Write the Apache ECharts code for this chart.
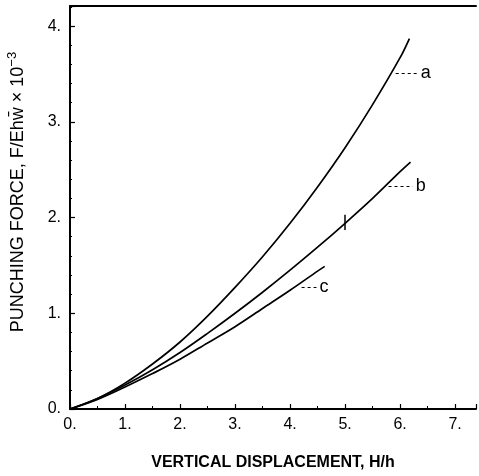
<!DOCTYPE html>
<html><head><meta charset="utf-8">
<script src="https://cdn.jsdelivr.net/npm/echarts@6/dist/echarts.min.js"></script>
<style>html,body{margin:0;padding:0;background:#fff}#c{width:479px;height:476px}</style>
</head><body><div id="c"></div>
<script>
// Curve a
const aX = [0, 0.5, 1, 1.5, 2, 2.5, 3, 3.5, 4, 4.5, 5, 5.5, 6, 6.17];
const aY = [0, 0.11, 0.27, 0.47, 0.70, 0.97, 1.27, 1.59, 1.94, 2.32, 2.73, 3.18, 3.67, 3.87];
// Curve b
const bX = [0, 0.5, 1, 1.5, 2, 2.5, 3, 3.5, 4, 4.5, 5, 5.5, 6, 6.19];
const bY = [0, 0.11, 0.25, 0.41, 0.59, 0.79, 1.00, 1.22, 1.45, 1.69, 1.94, 2.20, 2.48, 2.58];
// Curve c
const cX = [0, 0.5, 1, 1.5, 2, 2.5, 3, 3.5, 4, 4.5, 4.63];
const cY = [0, 0.10, 0.23, 0.37, 0.52, 0.69, 0.86, 1.05, 1.24, 1.44, 1.49];
// Curve labels: [name, leader start x, leader end x, y]
const labels = [["a", 5.92, 6.32, 3.51], ["b", 5.79, 6.23, 2.33], ["c", 4.21, 4.48, 1.27]];
// Tick mark on curve b
const bMark = [5.0, 1.87, 2.03];
const xTicks = ["0.", "1.", "2.", "3.", "4.", "5.", "6.", "7."];
const yTicks = ["0.", "1.", "2.", "3.", "4."];

const zip = (xs, ys) => xs.map((x, i) => [x, ys[i]]);
const font = "Liberation Sans, Arial, sans-serif";
const isInt = v => Math.abs(v - Math.round(v)) < 1e-6;
const lineSeries = (name, xs, ys, extra) => Object.assign({
  type: 'line', name, data: zip(xs, ys), smooth: 0.35, showSymbol: false,
  lineStyle: { color: '#000', width: 1.7 }, z: 3
}, extra || {});
const lblStyle = f => ({ show: true, position: 'end', formatter: f, color: '#000', fontSize: 18, fontFamily: font, distance: 3 });

const chart = echarts.init(document.getElementById('c'), null, { renderer: 'canvas' });
chart.setOption({
  animation: false,
  grid: { left: 70, top: 6, right: 0, bottom: 63 },
  xAxis: [{
    type: 'value', min: 0, max: 7.38, interval: 1,
    axisLine: { lineStyle: { color: '#000', width: 2 } },
    axisTick: { inside: true, length: 5, lineStyle: { color: '#000', width: 1.2 } },
    minorTick: { show: true, splitNumber: 2, length: 3, lineStyle: { color: '#000' } },
    splitLine: { show: false },
    axisLabel: { color: '#000', fontSize: 16, fontFamily: font, margin: 8,
      formatter: v => isInt(v) ? (xTicks[Math.round(v)] || '') : '' },
    name: 'VERTICAL DISPLACEMENT, H/h', nameLocation: 'middle', nameGap: 46,
    nameTextStyle: { color: '#000', fontSize: 16, fontWeight: 'bold', fontFamily: font }
  }, {
    type: 'value', position: 'top', min: 0, max: 7.38,
    axisLine: { show: true, lineStyle: { color: '#000', width: 2 } },
    axisTick: { show: false }, axisLabel: { show: false }, splitLine: { show: false }
  }],
  yAxis: {
    type: 'value', min: 0, max: 4.21, interval: 1,
    axisLine: { lineStyle: { color: '#000', width: 2 } },
    axisTick: { inside: true, length: 5, lineStyle: { color: '#000', width: 1.2 } },
    minorTick: { show: true, splitNumber: 5, length: 2, lineStyle: { color: '#000' } },
    splitLine: { show: false },
    axisLabel: { color: '#000', fontSize: 16, fontFamily: font, margin: 9,
      formatter: v => isInt(v) ? (yTicks[Math.round(v)] || '') : '' }
  },
  graphic: [{
    type: 'text', x: 18, y: 192, rotation: Math.PI / 2,
    style: {
      text: '{t|PUNCHING FORCE, F/Ehw̄ × 10}{s|−3}',
      align: 'center', verticalAlign: 'middle', fill: '#000', font: '18px ' + font,
      rich: { t: { fontSize: 18, fontFamily: font, fill: '#000' },
              s: { fontSize: 13, fontFamily: font, fill: '#000', padding: [0, 0, 12, 0] } }
    }
  }],
  series: [
    lineSeries('a', aX, aY, { markLine: {
      silent: true, symbol: ['none', 'none'],
      lineStyle: { type: [3, 3], color: '#000', width: 1 },
      label: lblStyle('a'),
      data: [[{ coord: [labels[0][1], labels[0][3]] }, { coord: [labels[0][2], labels[0][3]] }]]
    } }),
    lineSeries('b', bX, bY, { markLine: {
      silent: true, symbol: ['none', 'none'],
      lineStyle: { type: [3, 3], color: '#000', width: 1 },
      label: { show: false },
      data: [
        [{ coord: [labels[1][1], labels[1][3]] }, { coord: [labels[1][2], labels[1][3]], label: lblStyle('b') }],
        [{ coord: [bMark[0], bMark[1]], lineStyle: { type: 'solid', width: 1.5 } },
         { coord: [bMark[0], bMark[2]], lineStyle: { type: 'solid', width: 1.5 } }]
      ]
    } }),
    lineSeries('c', cX, cY, { markLine: {
      silent: true, symbol: ['none', 'none'],
      lineStyle: { type: [3, 3], color: '#000', width: 1 },
      label: lblStyle('c'),
      data: [[{ coord: [labels[2][1], labels[2][3]] }, { coord: [labels[2][2], labels[2][3]] }]]
    } })
  ]
});
</script></body></html>
